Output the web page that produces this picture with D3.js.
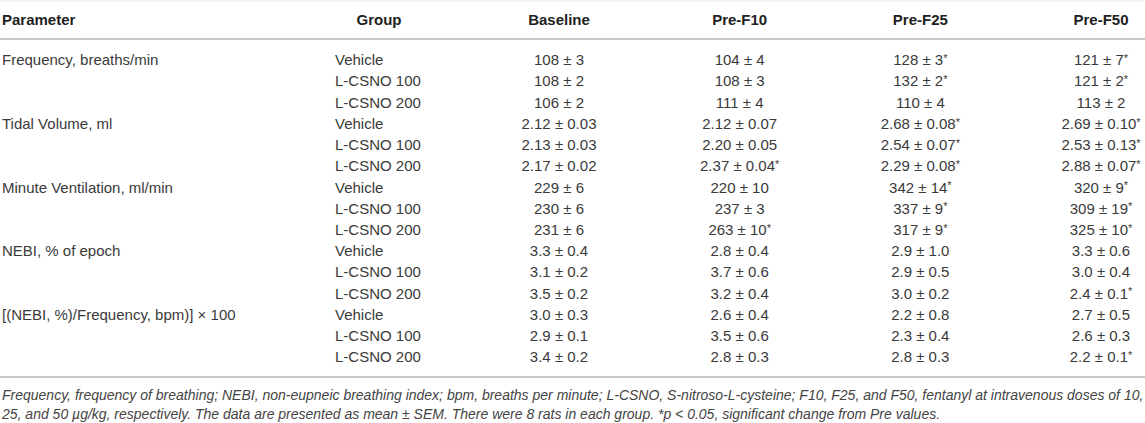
<!doctype html>
<html lang="en">
<head>
<meta charset="UTF-8">
<title>Ventilatory parameters table</title>
<script src="https://cdn.jsdelivr.net/npm/d3@7/dist/d3.min.js"></script>
<style>
    html, body { margin: 0; padding: 0; background: #fff; }
    svg text { font-family: "Liberation Sans", Arial, Helvetica, sans-serif; }
</style>
</head>
<body>
<div id="tableDiv"></div>
<script>
// table content
const columns = ["Baseline", "Pre-F10", "Pre-F25", "Pre-F50"]
const parameters = [
    "Frequency, breaths/min",
    "Tidal Volume, ml",
    "Minute Ventilation, ml/min",
    "NEBI, % of epoch",
    "[(NEBI, %)/Frequency, bpm)] \u00d7 100"
]
const groups = ["Vehicle", "L-CSNO 100", "L-CSNO 200"]

// one list per column, rows in order parameter x group, "*" = significant
const baseline = ["108 ± 3", "108 ± 2", "106 ± 2",
    "2.12 ± 0.03", "2.13 ± 0.03", "2.17 ± 0.02",
    "229 ± 6", "230 ± 6", "231 ± 6",
    "3.3 ± 0.4", "3.1 ± 0.2", "3.5 ± 0.2",
    "3.0 ± 0.3", "2.9 ± 0.1", "3.4 ± 0.2"]
const preF10 = ["104 ± 4", "108 ± 3", "111 ± 4",
    "2.12 ± 0.07", "2.20 ± 0.05", "2.37 ± 0.04*",
    "220 ± 10", "237 ± 3", "263 ± 10*",
    "2.8 ± 0.4", "3.7 ± 0.6", "3.2 ± 0.4",
    "2.6 ± 0.4", "3.5 ± 0.6", "2.8 ± 0.3"]
const preF25 = ["128 ± 3*", "132 ± 2*", "110 ± 4",
    "2.68 ± 0.08*", "2.54 ± 0.07*", "2.29 ± 0.08*",
    "342 ± 14*", "337 ± 9*", "317 ± 9*",
    "2.9 ± 1.0", "2.9 ± 0.5", "3.0 ± 0.2",
    "2.2 ± 0.8", "2.3 ± 0.4", "2.8 ± 0.3"]
const preF50 = ["121 ± 7*", "121 ± 2*", "113 ± 2",
    "2.69 ± 0.10*", "2.53 ± 0.13*", "2.88 ± 0.07*",
    "320 ± 9*", "309 ± 19*", "325 ± 10*",
    "3.3 ± 0.6", "3.0 ± 0.4", "2.4 ± 0.1*",
    "2.7 ± 0.5", "2.6 ± 0.3", "2.2 ± 0.1*"]

const footnote = [
    "Frequency, frequency of breathing; NEBI, non-eupneic breathing index; bpm, breaths per minute; L-CSNO, S-nitroso-L-cysteine; F10, F25, and F50, fentanyl at intravenous doses of 10,",
    "25, and 50 µg/kg, respectively. The data are presented as mean ± SEM. There were 8 rats in each group. *p < 0.05, significant change from Pre values."
]

const seriesList = [baseline, preF10, preF25, preF50]

/** layout */
const width = 1145, height = 423
const paramX = 2, groupX = 335
const headerY = 20, headerLineY = 39, bottomLineY = 377

const svg = d3.select('#tableDiv').append('svg')
    .attr('width', width).attr('height', height)

const rowCount = parameters.length * groups.length
const y = d3.scalePoint()
    .domain(d3.range(rowCount))
    .range([60, 357])

const x = d3.scalePoint()
    .domain(columns)
    .range([559, 1101])

// rules
svg.append('line').attr('x1', 0).attr('x2', width).attr('y1', 1).attr('y2', 1)
    .attr('stroke', '#e6e6e6').attr('stroke-width', 1)
svg.append('line').attr('x1', 0).attr('x2', width).attr('y1', headerLineY).attr('y2', headerLineY)
    .attr('stroke', '#c8c8c8').attr('stroke-width', 2)
svg.append('line').attr('x1', 0).attr('x2', width).attr('y1', bottomLineY).attr('y2', bottomLineY)
    .attr('stroke', '#c8c8c8').attr('stroke-width', 2)

// header
const header = svg.append('g').attr('class', 'header')
    .attr('font-weight', 'bold').attr('font-size', 15).attr('fill', '#222')
header.append('text').attr('x', paramX).attr('y', headerY).attr('dy', '0.35em').text('Parameter')
header.append('text').attr('x', 379).attr('y', headerY).attr('dy', '0.35em')
    .attr('text-anchor', 'middle').text('Group')
header.selectAll('text.col').data(columns).join('text')
    .attr('class', 'col')
    .attr('x', d => x(d)).attr('y', headerY).attr('dy', '0.35em')
    .attr('text-anchor', 'middle').text(d => d)

// body
const rows = d3.range(rowCount).map(i => ({
    i: i,
    param: i % groups.length === 0 ? parameters[Math.floor(i / groups.length)] : '',
    group: groups[i % groups.length]
}))

const body = svg.append('g').attr('class', 'body').attr('font-size', 15).attr('fill', '#3a3a3a')

body.selectAll('text.param').data(rows.filter(r => r.param)).join('text')
    .attr('class', 'param')
    .attr('x', paramX).attr('y', r => y(r.i)).attr('dy', '0.35em')
    .text(r => r.param)

body.selectAll('text.group').data(rows).join('text')
    .attr('class', 'group')
    .attr('x', groupX).attr('y', r => y(r.i)).attr('dy', '0.35em')
    .text(r => r.group)

columns.forEach(function(col, c) {
    const cells = body.selectAll('text.c' + c).data(seriesList[c]).join('text')
        .attr('class', 'c' + c)
        .attr('x', x(col)).attr('y', (d, i) => y(i)).attr('dy', '0.35em')
        .attr('text-anchor', 'middle')
    cells.append('tspan').text(d => d.replace('*', ''))
    cells.filter(d => d.includes('*')).append('tspan')
        .attr('font-size', 11).attr('dy', '-0.3em').text('*')
})

// footnote
svg.append('g').attr('font-style', 'italic').attr('font-size', 14).attr('fill', '#444')
    .selectAll('text').data(footnote).join('text')
    .attr('x', paramX).attr('y', (d, i) => 400 + i * 19)
    .text(d => d)
</script>
</body>
</html>
